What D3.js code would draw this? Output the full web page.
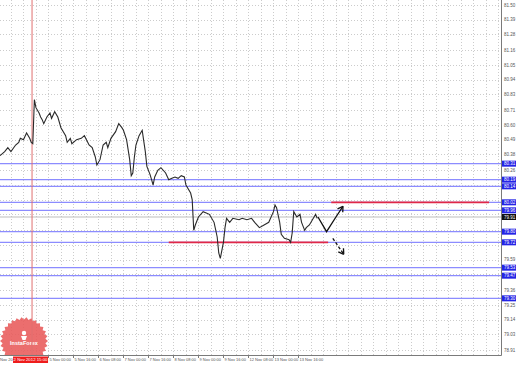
<!DOCTYPE html>
<html>
<head>
<meta charset="utf-8">
<script src="https://cdn.jsdelivr.net/npm/d3@7"></script>
<style>
  body { margin: 0; background: #fff; }
  svg { display: block; font-family: "Liberation Sans", Arial, sans-serif; }
</style>
</head>
<body>
<script>
"use strict";

// bar index (H1) and close price
var bars = [0, 3, 5, 7, 10, 12, 13, 15, 17, 19, 20, 21, 22, 23, 25, 26, 27, 28, 30, 32,
  33, 35, 37, 39, 42, 43, 45, 46, 49, 52, 54, 57, 59, 61, 62, 64, 66, 68, 69, 71,
  74, 76, 78, 79, 81, 83, 84, 85, 86, 87, 89, 91, 93, 94, 96, 97, 98, 99, 101, 103,
  106, 108, 110, 112, 114, 116, 118, 119, 122, 123, 124, 125, 127, 130, 132, 134, 137, 139, 140, 141,
  143, 144, 145, 147, 149, 153, 155, 158, 161, 163, 166, 169, 172, 175, 176, 177, 179, 180, 182, 185,
  186, 187, 188, 190, 192, 193, 195, 196, 198, 201, 202, 203];
var closes = [80.37, 80.40, 80.43, 80.40, 80.45, 80.47, 80.50, 80.49, 80.54, 80.50, 80.47, 80.46, 80.79, 80.73, 80.69, 80.66, 80.64, 80.61, 80.66, 80.69,
  80.65, 80.70, 80.66, 80.58, 80.52, 80.47, 80.50, 80.46, 80.49, 80.50, 80.52, 80.45, 80.43, 80.36, 80.30, 80.34, 80.45, 80.47, 80.43, 80.50,
  80.55, 80.61, 80.58, 80.56, 80.49, 80.34, 80.22, 80.24, 80.36, 80.45, 80.52, 80.56, 80.40, 80.29, 80.23, 80.19, 80.15, 80.21, 80.26, 80.28,
  80.24, 80.19, 80.20, 80.21, 80.20, 80.22, 80.21, 80.15, 80.09, 80.04, 79.81, 79.85, 79.91, 79.95, 79.94, 79.93, 79.87, 79.76, 79.64, 79.60,
  79.72, 79.83, 79.90, 79.87, 79.90, 79.89, 79.90, 79.89, 79.90, 79.87, 79.83, 79.85, 79.87, 79.95, 80.00, 79.98, 79.87, 79.78, 79.75, 79.74,
  79.72, 79.79, 79.95, 79.91, 79.93, 79.87, 79.81, 79.83, 79.85, 79.91, 79.93, 79.90];

// horizontal support / resistance levels
var levels = [80.31, 80.19, 80.14, 80.02, 79.96, 79.80, 79.72, 79.53, 79.47, 79.30];
var currentPrice = 79.91;

// red target lines: [fromBar, toBar, price]
var redLines = [[108, 210, 79.72], [212, 313, 80.02]];

// forecast arrows
var upArrowBars = [203.5, 209, 215, 219.5];
var upArrowPrices = [79.91, 79.80, 79.91, 79.99];
var downArrowBars = [213, 220];
var downArrowPrices = [79.75, 79.63];

// right axis labels
var priceTicks = [81.50, 81.39, 81.28, 81.16, 81.05, 80.94, 80.83, 80.71, 80.60, 80.49, 80.38, 80.26,
  80.15, 80.04, 79.93, 79.81, 79.70, 79.59, 79.48, 79.36, 79.25, 79.14, 79.03, 78.91];

// bottom axis labels
var dateBars = [31, 47, 63, 79, 95, 111, 127, 143, 159, 175, 191];
var dateLabels = ["5 Nov 00:00", "5 Nov 16:00", "6 Nov 08:00", "7 Nov 00:00", "7 Nov 16:00", "8 Nov 08:00",
  "9 Nov 00:00", "9 Nov 16:00", "12 Nov 08:00", "13 Nov 00:00", "13 Nov 16:00"];
var cursorBar = 20.5;
var cursorLabel = "2 Nov 2012 15:00";

var width = 519, height = 365;
var plotW = 501, plotH = 355;

var svg = d3.select('body').append('svg')
  .attr('width', width)
  .attr('height', height);

var xScale = d3.scaleLinear().domain([0, 320.64]).range([0, plotW]);
var yScale = d3.scaleLinear().domain([81.5375, 78.875]).range([0, plotH]);

svg.append('defs').append('clipPath').attr('id', 'plot')
  .append('rect').attr('width', plotW).attr('height', plotH);

var plot = svg.append('g').attr('clip-path', 'url(#plot)');

// grid
var gridBars = d3.range(7, 321, 8);
plot.selectAll('.vgrid').data(gridBars).enter().append('line')
  .attr('x1', function (d) { return Math.round(xScale(d)) + 0.5; })
  .attr('x2', function (d) { return Math.round(xScale(d)) + 0.5; })
  .attr('y1', 0).attr('y2', plotH)
  .attr('stroke', '#cccccc').attr('stroke-dasharray', '1,2');

plot.selectAll('.hgrid').data(priceTicks).enter().append('line')
  .attr('x1', 0).attr('x2', plotW)
  .attr('y1', function (d) { return Math.round(yScale(d)) + 0.5; })
  .attr('y2', function (d) { return Math.round(yScale(d)) + 0.5; })
  .attr('stroke', '#cccccc').attr('stroke-dasharray', '1,2');

// InstaForex seal
var seal = plot.append('g').attr('transform', 'translate(24,341)');
var teeth = 30, pts = [];
for (var i = 0; i < teeth * 2; i++) {
  var r = i % 2 === 0 ? 24 : 21.5;
  var a = Math.PI * i / teeth;
  pts.push([r * Math.cos(a), r * Math.sin(a)]);
}
seal.append('polygon')
  .attr('points', pts.map(function (p) { return p.join(','); }).join(' '))
  .attr('fill', '#e85a5a').attr('opacity', 0.88);
seal.append('circle').attr('cx', 0).attr('cy', -8).attr('r', 2.2).attr('fill', '#fff');
seal.append('path').attr('d', 'M-3,-5 L3,-5 L1.5,-1 L-1.5,-1 Z').attr('fill', '#fff');
seal.append('text').attr('x', 0).attr('y', 3.5)
  .attr('text-anchor', 'middle')
  .attr('font-size', 5.5).attr('font-weight', 'bold')
  .attr('fill', '#fff').text('InstaForex');

// current price line
plot.append('line')
  .attr('x1', 0).attr('x2', plotW)
  .attr('y1', yScale(currentPrice)).attr('y2', yScale(currentPrice))
  .attr('stroke', '#bdbdbd').attr('stroke-width', 1);

// level lines
plot.selectAll('.level').data(levels).enter().append('line')
  .attr('x1', 0).attr('x2', plotW)
  .attr('y1', function (d) { return yScale(d); })
  .attr('y2', function (d) { return yScale(d); })
  .attr('stroke', '#8c8cff').attr('stroke-width', 1.2);

// cursor / period line
plot.append('line')
  .attr('x1', xScale(cursorBar)).attr('x2', xScale(cursorBar))
  .attr('y1', 0).attr('y2', plotH)
  .attr('stroke', '#e07070').attr('stroke-width', 1);

// red lines
plot.selectAll('.red').data(redLines).enter().append('line')
  .attr('x1', function (d) { return xScale(d[0]); })
  .attr('x2', function (d) { return xScale(d[1]); })
  .attr('y1', function (d) { return yScale(d[2]); })
  .attr('y2', function (d) { return yScale(d[2]); })
  .attr('stroke', '#e02848').attr('stroke-width', 1.8);

// price
var line = d3.line()
  .x(function (d, i) { return xScale(bars[i]); })
  .y(function (d) { return yScale(d); });

plot.append('path')
  .datum(closes)
  .attr('d', line)
  .attr('fill', 'none')
  .attr('stroke', '#2a2a2a')
  .attr('stroke-width', 1.1)
  .attr('stroke-linejoin', 'miter');

// arrows
function drawArrow(bx, py, dash) {
  var arrowLine = d3.line()
    .x(function (d, i) { return xScale(bx[i]); })
    .y(function (d) { return yScale(d); });
  plot.append('path').datum(py)
    .attr('d', arrowLine)
    .attr('fill', 'none').attr('stroke', '#111').attr('stroke-width', 1.3)
    .attr('stroke-dasharray', dash);
  var n = bx.length;
  var x1 = xScale(bx[n - 2]), y1 = yScale(py[n - 2]);
  var x2 = xScale(bx[n - 1]), y2 = yScale(py[n - 1]);
  var ang = Math.atan2(y2 - y1, x2 - x1);
  var len = 6;
  [0.55, -0.55].forEach(function (off) {
    plot.append('line')
      .attr('x1', x2).attr('y1', y2)
      .attr('x2', x2 - len * Math.cos(ang + off))
      .attr('y2', y2 - len * Math.sin(ang + off))
      .attr('stroke', '#111').attr('stroke-width', 1.3);
  });
}
drawArrow(upArrowBars, upArrowPrices, null);
drawArrow(downArrowBars, downArrowPrices, '3,2');

// axes frame
svg.append('line').attr('x1', plotW + 0.5).attr('x2', plotW + 0.5)
  .attr('y1', 0).attr('y2', plotH + 0.5)
  .attr('stroke', '#7a7a7a');
svg.append('line').attr('x1', 0).attr('x2', plotW + 0.5)
  .attr('y1', plotH + 0.5).attr('y2', plotH + 0.5)
  .attr('stroke', '#7a7a7a');

// right axis labels (hidden where a level label sits)
var boxed = levels.concat([currentPrice]);
var freeTicks = priceTicks.filter(function (t) {
  return boxed.every(function (b) { return Math.abs(yScale(t) - yScale(b)) > 6.5; });
});
svg.selectAll('.plabel').data(freeTicks).enter().append('text')
  .attr('x', plotW + 3)
  .attr('y', function (d) { return yScale(d) + 1.6; })
  .attr('font-size', 4.5).attr('fill', '#555')
  .text(function (d) { return d.toFixed(2); });

function priceBox(p, color) {
  var g = svg.append('g').attr('transform', 'translate(' + (plotW + 1) + ',' + yScale(p) + ')');
  g.append('rect').attr('x', 0).attr('y', -3).attr('width', 14).attr('height', 6).attr('fill', color);
  g.append('text').attr('x', 2).attr('y', 1.6)
    .attr('font-size', 4.5).attr('fill', '#fff').text(p.toFixed(2));
}
levels.forEach(function (p) { priceBox(p, '#2424e6'); });
priceBox(currentPrice, '#111');

// bottom axis labels
svg.append('text').attr('x', 0).attr('y', 361)
  .attr('font-size', 4).attr('fill', '#555').text('Nov 20');

svg.selectAll('.dlabel').data(dateBars).enter().append('text')
  .attr('x', function (d) { return xScale(d) + 1; })
  .attr('y', 361)
  .attr('font-size', 4).attr('fill', '#555')
  .text(function (d, i) { return dateLabels[i]; });

svg.selectAll('.dtick').data(dateBars).enter().append('line')
  .attr('x1', function (d) { return Math.round(xScale(d)) + 0.5; })
  .attr('x2', function (d) { return Math.round(xScale(d)) + 0.5; })
  .attr('y1', plotH).attr('y2', plotH + 3)
  .attr('stroke', '#7a7a7a');

var cx = xScale(cursorBar);
svg.append('rect').attr('x', cx - 19).attr('y', 356.5).attr('width', 35).attr('height', 6.5).attr('fill', '#ee1c1c');
svg.append('text').attr('x', cx - 1.5).attr('y', 361.3)
  .attr('text-anchor', 'middle')
  .attr('font-size', 4.3).attr('fill', '#fff').text(cursorLabel);
</script>
</body>
</html>
